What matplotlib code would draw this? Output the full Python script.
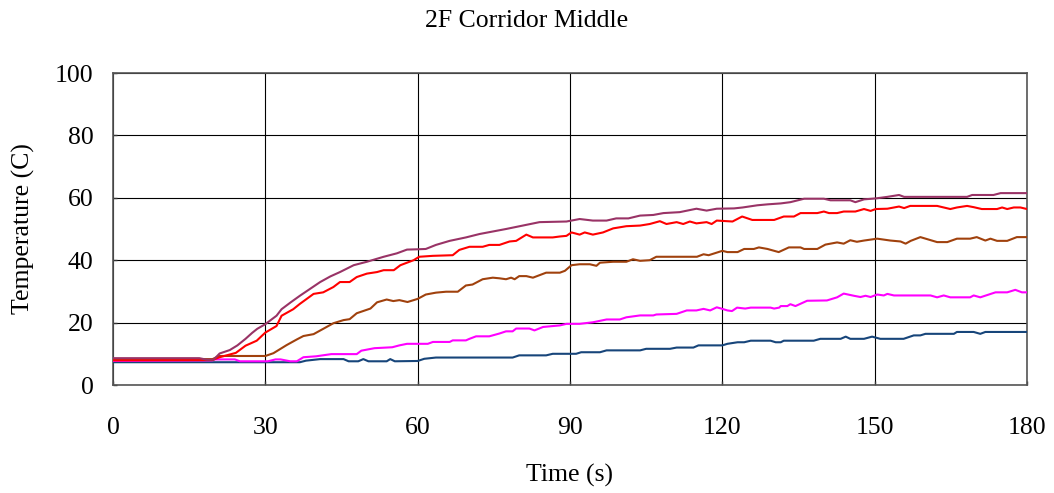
import matplotlib
matplotlib.use("Agg")
import matplotlib.pyplot as plt

plt.rcParams['font.family'] = ['Liberation Serif', 'DejaVu Serif']

title = "2F Corridor Middle"
x_label = "Time (s)"
y_label = "Temperature (C)"
x_ticks = [0, 30, 60, 90, 120, 150, 180]
y_ticks = [0, 20, 40, 60, 80, 100]

# Thermocouple tree readings (time in s, temperature in C)
t_purple = [0, 17, 18.5, 19.8, 21, 23, 24.5, 26.1, 27.4, 28.4, 30, 32.2, 33.2, 35, 36.8, 38.8,
            40.8, 42.8, 44.7, 47.4, 50, 53.3, 55.9, 57.9, 60, 61.6, 63.6, 66.3, 69.5, 72.2,
            74.8, 77.4, 80.7, 84, 89.3, 91.9, 94.5, 97.2, 99.1, 101.5, 103.8, 106.4, 108.4,
            111.6, 114.9, 116.9, 118.9, 122.3, 124, 126.9, 128.9, 131.5, 133.4, 136.1, 140,
            141.3, 145.2, 146.2, 147.9, 150.2, 152.5, 154.8, 155.8, 168.2, 169.2, 173.4,
            174.8, 180]
v_purple = [8.6, 8.6, 8.1, 8.1, 10.1, 11.2, 12.7, 14.8, 16.7, 18, 19.5, 22.2, 24.3, 26.5, 28.6,
            30.8, 33, 34.8, 36.2, 38.4, 39.5, 41.1, 42.2, 43.4, 43.5, 43.6, 44.9, 46.2, 47.3,
            48.4, 49.2, 50, 51.1, 52.2, 52.4, 53.2, 52.7, 52.7, 53.4, 53.4, 54.3, 54.5, 55.1,
            55.4, 56.5, 55.9, 56.5, 56.6, 56.9, 57.6, 57.9, 58.2, 58.6, 59.7, 59.7, 59.2,
            59.2, 58.6, 59.5, 59.8, 60.3, 60.9, 60.3, 60.3, 60.9, 60.9, 61.5, 61.5]

t_red = [0, 19.6, 21, 23.5, 24.2, 26.1, 28.3, 30, 32.2, 33.2, 35.5, 36.8, 39.5, 41.4, 43.4, 44.7,
         46.6, 48, 50, 52, 53.3, 55.3, 56.6, 59.2, 60.3, 63, 66.9, 68.2, 70.2, 72.8, 74.1, 76.1,
         78.1, 79.4, 81.4, 82.7, 86.6, 88, 89.3, 90.3, 91.9, 92.9, 94.5, 96.5, 98.5, 101.1,
         103.8, 105.7, 107.7, 109, 111, 112.3, 113.6, 114.9, 116.9, 117.9, 118.9, 122, 123.9,
         125.9, 130.2, 132.1, 134.1, 135.4, 138.7, 140, 141, 142.6, 143.9, 146.2, 147.9, 149.2,
         150.2, 152.5, 154.8, 155.8, 157, 162.3, 164.9, 166.2, 168.2, 169.5, 171.1, 174.1,
         175.1, 176.1, 177.4, 178.7, 180]
v_red = [7.9, 8.0, 8.9, 10.0, 10.3, 12.6, 14.2, 16.8, 18.9, 22.2, 24.3, 26, 29.2, 29.7, 31.4, 33,
         33, 34.6, 35.7, 36.2, 36.8, 36.8, 38.4, 40, 41.1, 41.4, 41.6, 43.3, 44.3, 44.3, 44.9,
         44.9, 46, 46.2, 48.2, 47.3, 47.3, 47.6, 47.8, 48.9, 48.2, 48.9, 48.2, 48.9, 50.2, 50.9,
         51.1, 51.6, 52.5, 51.6, 52.2, 51.6, 52.4, 51.8, 52.2, 51.6, 52.7, 52.4, 54, 52.9, 52.9,
         54, 54, 55.1, 55.1, 55.6, 55.1, 55.1, 55.6, 55.6, 56.4, 55.8, 56.4, 56.5, 57.2, 56.7,
         57.4, 57.4, 56.4, 56.9, 57.4, 57, 56.4, 56.4, 56.9, 56.4, 56.9, 56.9, 56.4]

t_brown = [0, 19.6, 20.9, 30, 31.6, 34.2, 36.2, 37.5, 39.5, 41.4, 43.4, 45.4, 46.6, 48, 50.7, 52,
           53.9, 55.2, 56.4, 58, 60, 61.6, 63.6, 65.6, 67.9, 69.5, 70.8, 72.8, 74.8, 76.1, 77.4,
           78.4, 79.1, 80, 81.4, 82.7, 85.3, 88, 89, 90.3, 91.9, 93.9, 95.2, 95.9, 98.5, 101.1,
           102.4, 103.8, 105.7, 107, 115, 116.3, 117.3, 120, 121, 123, 124.3, 126.2, 127.2,
           128.9, 131.1, 133.1, 135.4, 136.1, 138.7, 140.3, 142.6, 143.9, 145.2, 146.5, 147.9,
           150.5, 153.1, 155.1, 156.1, 157.1, 159, 162.3, 164.3, 166.2, 168.8, 170.1, 171.8,
           172.8, 174.1, 176.1, 178, 180]
v_brown = [8.3, 8.3, 9.3, 9.3, 10.2, 12.8, 14.6, 15.7, 16.3, 18, 19.8, 20.8, 21.1, 23, 24.5, 26.5,
           27.4, 26.9, 27.2, 26.6, 27.6, 29, 29.6, 29.9, 29.9, 31.9, 32.2, 33.9, 34.4, 34.2, 33.9,
           34.4, 33.9, 34.9, 34.9, 34.4, 36, 36, 36.6, 38.4, 38.7, 38.7, 38.2, 39.2, 39.5, 39.5,
           40.3, 39.8, 40, 41.1, 41.1, 41.9, 41.6, 43, 42.6, 42.6, 43.6, 43.6, 44.1, 43.6, 42.6,
           44.1, 44.1, 43.6, 43.6, 45, 45.7, 45.3, 46.4, 45.9, 46.3, 46.9, 46.3, 46, 45.3, 46.2,
           47.4, 45.8, 45.8, 46.9, 46.9, 47.4, 46.3, 46.9, 46.2, 46.2, 47.4, 47.4]

t_magenta = [0, 19.6, 20, 24, 25, 30.5, 32, 33, 34.9, 36.2, 37.5, 40, 43, 48, 48.9, 51.5, 55,
             56.4, 57.9, 62, 63, 66.3, 66.9, 69.5, 70.2, 71.5, 74.1, 76.1, 77.4, 78.7, 79.4, 82,
             83, 84.7, 88, 89.3, 91.9, 94.5, 97.2, 99.8, 101.1, 103.8, 106.4, 107, 111, 113,
             114.9, 116.3, 117.6, 118.9, 120, 121, 121.9, 122.9, 124.5, 125.6, 129.5, 130.2,
             131.2, 131.5, 132.8, 133.4, 134.4, 136.7, 140.6, 142.6, 143.9, 145.9, 147.2, 148.2,
             149.2, 150.5, 151.8, 152.5, 153.8, 161, 162.3, 163.6, 164.9, 168.8, 169.5, 170.8,
             173.8, 176.1, 177.7, 179, 180]
v_magenta = [7.7, 7.9, 8.2, 8.2, 7.6, 7.6, 8.2, 8.2, 7.6, 7.6, 8.9, 9.2, 9.9, 9.9, 11.0, 11.8,
             12.1, 12.7, 13.2, 13.2, 13.8, 13.8, 14.3, 14.3, 14.8, 15.6, 15.6, 16.5, 17.2, 17.2,
             18.1, 18.1, 17.5, 18.6, 19.1, 19.6, 19.6, 20.1, 21, 21, 21.7, 22.3, 22.3, 22.6, 22.8,
             23.9, 23.9, 24.4, 23.9, 24.9, 24.4, 23.9, 23.7, 24.8, 24.5, 24.8, 24.8, 24.5, 24.8,
             25.3, 25.3, 25.9, 25.3, 27, 27.1, 28.1, 29.3, 28.6, 28.2, 28.6, 28.2, 29, 28.7, 29.2,
             28.7, 28.7, 28.1, 28.7, 28.1, 28.1, 28.7, 28.1, 29.7, 29.7, 30.5, 29.7, 29.7]

t_navy = [0, 36.8, 38, 40.8, 45.4, 46.4, 48.3, 49.3, 50.3, 53.9, 54.6, 55.5, 60, 61.3, 63.6, 78.7,
          80, 85.3, 86.6, 91.2, 92.2, 95.9, 97.2, 103.8, 105, 109.7, 111, 114.3, 115.3, 120, 121,
          123, 124.3, 125.6, 129.5, 130.5, 131.5, 132.1, 138, 139.3, 143.3, 144.3, 145.2, 147.9,
          149.5, 151.1, 155.7, 157.7, 159, 160, 165.6, 166.2, 169.5, 170.8, 171.8, 180]
v_navy = [7.3, 7.3, 7.8, 8.3, 8.3, 7.6, 7.6, 8.3, 7.6, 7.6, 8.3, 7.6, 7.7, 8.4, 8.8, 8.8, 9.5, 9.5,
          10, 10, 10.5, 10.5, 11.1, 11.1, 11.6, 11.6, 12, 12, 12.7, 12.7, 13.2, 13.7, 13.7, 14.2,
          14.2, 13.7, 13.7, 14.2, 14.2, 14.8, 14.8, 15.5, 14.8, 14.8, 15.5, 14.8, 14.8, 15.9,
          15.9, 16.4, 16.4, 17, 17, 16.4, 17, 17]

series = [
    (t_navy, v_navy, "#17457a"),
    (t_magenta, v_magenta, "#ff00ff"),
    (t_brown, v_brown, "#a0410d"),
    (t_red, v_red, "#ff0000"),
    (t_purple, v_purple, "#993366"),
]

fig = plt.figure(figsize=(10.54, 4.93), dpi=100)
ax = fig.add_axes([113 / 1054, 1 - 385 / 493, 914 / 1054, 312 / 493])

for t, v, c in series:
    ax.plot(t, v, color=c, lw=1.5, solid_joinstyle="round", zorder=3)

ax.set_xlim(0, 180)
ax.set_ylim(0, 100)
ax.set_xticks(x_ticks)
ax.set_yticks(y_ticks)
ax.grid(True, color="black", lw=0.8, zorder=1)
ax.set_axisbelow(True)
for s in ax.spines.values():
    s.set_color("#555555")
    s.set_linewidth(1.2)

ax.tick_params(axis="both", direction="in", length=3, width=1, color="#333333",
               labelsize=18.5)
ax.tick_params(axis="x", pad=23)
ax.tick_params(axis="y", pad=14)

ax.set_xlabel(x_label, fontsize=18.5)
ax.xaxis.set_label_coords(0.5, -0.253)
ax.set_ylabel(y_label, fontsize=18.5)
ax.yaxis.set_label_coords(-0.085, 0.5)

fig.text(0.5, 1 - 21 / 493, title, ha="center", va="center", fontsize=18.5)

fig.savefig("out.png", dpi=100)
